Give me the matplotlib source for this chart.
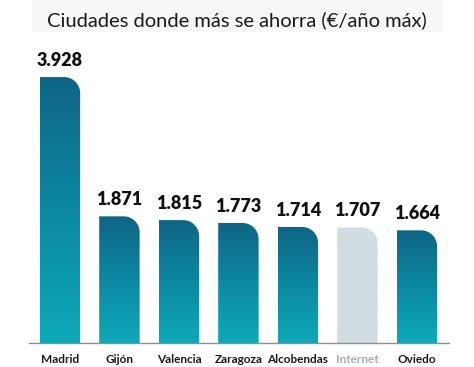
import matplotlib
matplotlib.use("Agg")
import matplotlib.pyplot as plt
import numpy as np
from matplotlib.colors import LinearSegmentedColormap
from matplotlib.patches import PathPatch, Rectangle
from matplotlib.path import Path

plt.rcParams['font.family'] = ['Lato', 'DejaVu Sans']

cities = ["Madrid", "Gijón", "Valencia", "Zaragoza", "Alcobendas", "Internet", "Oviedo"]
savings = [3928, 1871, 1815, 1773, 1714, 1707, 1664]
labels = ["3.928", "1.871", "1.815", "1.773", "1.714", "1.707", "1.664"]
highlight = [True, True, True, True, True, False, True]

W, H, DPI = 474, 367, 100
fig = plt.figure(figsize=(W / DPI, H / DPI), dpi=DPI)
fig.patch.set_facecolor("white")

# light band behind the title
fig.patches.append(Rectangle((32 / W, 1 - 32 / H), 411 / W, 32 / H,
                             transform=fig.transFigure, facecolor="#f5f7f8",
                             edgecolor="none", zorder=0))
fig.text(0.5, 1 - 20 / H, "Ciudades donde más se ahorra (€/año máx)",
         ha="center", va="center", fontsize=14.5, color="#1a1a1a")

ax = fig.add_axes([29 / W, 24 / H, 420 / W, 283 / H])
ax.set_xlim(-0.52, 6.54)
ax.set_ylim(0, 4180)
for s in ["top", "right", "left"]:
    ax.spines[s].set_visible(False)
ax.spines["bottom"].set_color("#8a8f93")
ax.spines["bottom"].set_linewidth(1.0)
ax.set_yticks([])
ax.set_xticks(range(len(cities)))
ax.set_xticklabels(cities, fontsize=8.5, fontweight="bold")
ax.tick_params(axis="x", length=0, pad=8)
for t, h in zip(ax.get_xticklabels(), highlight):
    t.set_color("#1a1a1a" if h else "#a6adb2")

bars = ax.bar(range(len(cities)), savings, width=0.68, color="none")

teal = LinearSegmentedColormap.from_list("teal", ["#0ea9b9", "#0c88a2", "#0f6585"])
grey = LinearSegmentedColormap.from_list("grey", ["#d2dde2", "#d2dde2"])

# pixel -> data scale for the rounded corner
px_x = (6.54 + 0.52) / 420
px_y = 4180 / 283
r = 16

for b, h, lab in zip(bars, highlight, labels):
    x0, w, top = b.get_x(), b.get_width(), b.get_height()
    rx, ry = r * px_x, r * px_y
    k = 0.5523
    verts = [(x0, 0), (x0, top), (x0 + w - rx, top),
             (x0 + w - rx + k * rx, top), (x0 + w, top - ry + k * ry), (x0 + w, top - ry),
             (x0 + w, 0), (x0, 0)]
    codes = [Path.MOVETO, Path.LINETO, Path.LINETO,
             Path.CURVE4, Path.CURVE4, Path.CURVE4,
             Path.LINETO, Path.CLOSEPOLY]
    patch = PathPatch(Path(verts, codes), facecolor="none", edgecolor="none")
    ax.add_patch(patch)
    grad = np.linspace(0, 1, 256).reshape(-1, 1)
    im = ax.imshow(grad, cmap=teal if h else grey, origin="lower", aspect="auto",
                   extent=(x0, x0 + w, 0, top), zorder=2)
    im.set_clip_path(patch)
    ax.annotate(lab, (b.get_x() + w / 2, top), xytext=(0, 6), textcoords="offset points",
                ha="center", va="bottom", fontsize=13, fontweight="heavy", color="#111111")

ax.set_xlim(-0.52, 6.54)
ax.set_ylim(0, 4180)

fig.savefig("out.png", dpi=DPI)
